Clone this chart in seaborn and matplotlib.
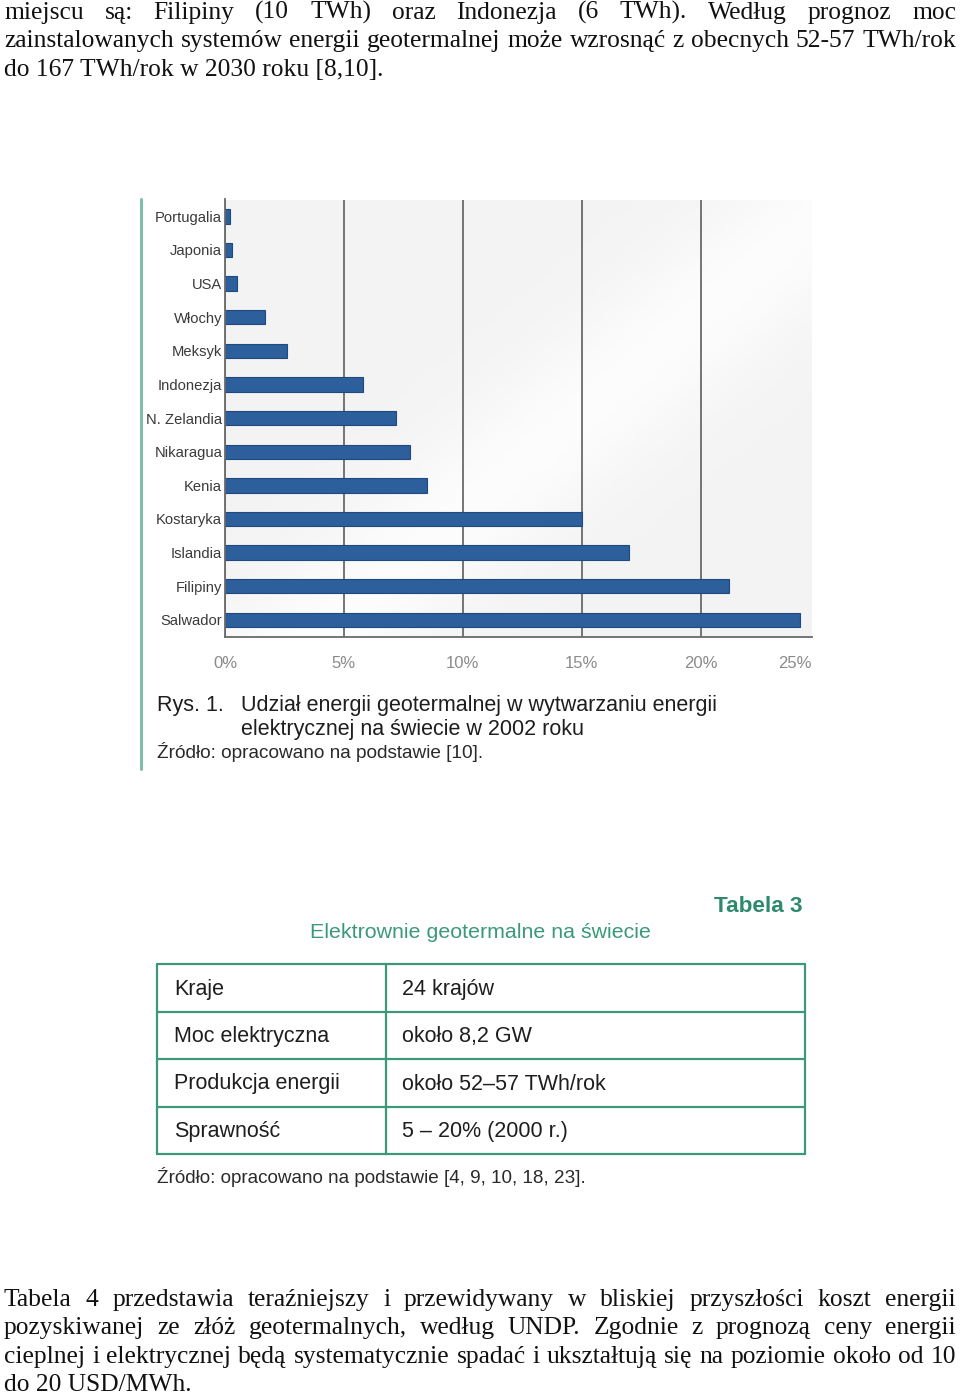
import numpy as np
import pandas as pd
import matplotlib
matplotlib.use("Agg")
import matplotlib.pyplot as plt
import seaborn as sns
from matplotlib import font_manager

# ---------------- data ----------------
countries = ["Portugalia", "Japonia", "USA", "Włochy", "Meksyk", "Indonezja",
             "N. Zelandia", "Nikaragua", "Kenia", "Kostaryka", "Islandia",
             "Filipiny", "Salwador"]
shares = [0.2, 0.3, 0.5, 1.7, 2.6, 5.8, 7.2, 7.8, 8.5, 15.0, 17.0, 21.2, 24.2]
x_ticks = [0, 5, 10, 15, 20]
x_tick_labels = ["0%", "5%", "10%", "15%", "20%"]
edge_tick_label = "25%"

caption_num = "Rys. 1."
caption_lines = ["Udział energii geotermalnej w wytwarzaniu energii",
                 "elektrycznej na świecie w 2002 roku"]
caption_source = "Źródło: opracowano na podstawie [10]."

table_label = "Tabela 3"
table_title = "Elektrownie geotermalne na świecie"
table_keys = ["Kraje", "Moc elektryczna", "Produkcja energii", "Sprawność"]
table_values = ["24 krajów", "około 8,2 GW", "około 52–57 TWh/rok", "5 – 20% (2000 r.)"]
table_source = "Źródło: opracowano na podstawie [4, 9, 10, 18, 23]."

para_top = [
    "miejscu są: Filipiny (10 TWh) oraz Indonezja (6 TWh). Według prognoz moc",
    "zainstalowanych systemów energii geotermalnej może wzrosnąć z obecnych 52-57 TWh/rok",
    "do 167 TWh/rok w 2030 roku [8,10].",
]
para_bottom = [
    "Tabela 4 przedstawia teraźniejszy i przewidywany w bliskiej przyszłości koszt energii",
    "pozyskiwanej ze złóż geotermalnych, według UNDP. Zgodnie z prognozą ceny energii",
    "cieplnej i elektrycznej będą systematycznie spadać i ukształtują się na poziomie około od 10",
    "do 20 USD/MWh.",
]

# ---------------- fonts ----------------
sns.set_style("white")
available = {f.name for f in font_manager.fontManager.ttflist}
SERIF = "Liberation Serif"
SANS = "Liberation Sans"
NARROW = "Liberation Sans Narrow" if "Liberation Sans Narrow" in available else "Liberation Sans"
plt.rcParams["font.family"] = [SANS, "DejaVu Sans"]

W, H = 960, 1396
fig = plt.figure(figsize=(W / 100, H / 100), dpi=100)
fig.patch.set_facecolor("white")

# page overlay axes in pixel coordinates
pg = fig.add_axes([0, 0, 1, 1], zorder=0)
pg.set_xlim(0, W)
pg.set_ylim(H, 0)
pg.axis("off")

renderer = fig.canvas.get_renderer()

def text_width(s, fs, family):
    t = pg.text(0, 0, s, fontsize=fs, family=family)
    w = t.get_window_extent(renderer).width
    t.remove()
    return w

# ---------------- body text ----------------
X0, X1 = 4, 956
ref_w = text_width(para_top[1], 18, SERIF)
body_fs = 18 * (X1 - X0 - 6) / ref_w

def draw_line(s, y, justify):
    words = s.split(" ")
    if not justify or len(words) < 2:
        pg.text(X0, y, s, fontsize=body_fs, family=SERIF, va="baseline", ha="left", color="#111111")
        return
    texts = [pg.text(0, y, w, fontsize=body_fs, family=SERIF, va="baseline", ha="left",
                     color="#111111") for w in words]
    widths = [t.get_window_extent(renderer).width for t in texts]
    gap = (X1 - X0 - sum(widths)) / (len(words) - 1)
    x = X0
    for t, w in zip(texts, widths):
        t.set_x(x)
        x += w + gap

for i, s in enumerate(para_top):
    draw_line(s, 19 + i * 28.3, i < len(para_top) - 1)
for i, s in enumerate(para_bottom):
    draw_line(s, 1306 + i * 28.3, i < len(para_bottom) - 1)

# ---------------- bar chart ----------------
L, R, T, B = 225.0, 811.7, 199.5, 636.7
ax = fig.add_axes([L / W, 1 - B / H, (R - L) / W, (B - T) / H], zorder=2)
df = pd.DataFrame({"kraj": countries, "udzial": shares})
sns.barplot(data=df, x="udzial", y="kraj", orient="h", color="#2c5f9b",
            width=0.43, edgecolor="#1f4a80", linewidth=0.8, saturation=1, ax=ax)
xmax = (R - L) / 23.78
ax.set_xlim(0, xmax)
ax.set_facecolor("#f0f0f0")
# soft diagonal light band in the plot background
gx, gy = np.meshgrid(np.linspace(0, 1, 200), np.linspace(0, 1, 200))
band = np.exp(-((gx - (1 - gy) * 0.9 - 0.15) ** 2) / 0.04)
ax.imshow(band, extent=(0, xmax, 12.5, -0.5), aspect="auto", cmap="Greys_r",
          vmin=-12, vmax=1.3, alpha=1.0, zorder=0, interpolation="bilinear")
ax.set_ylim(12.5, -0.5)
ax.set_xticks(x_ticks)
ax.set_xticklabels(x_tick_labels)
ax.set_xlabel("")
ax.set_ylabel("")
ax.grid(axis="x", color="#6a6a6a", linewidth=1.3, zorder=1)
ax.set_axisbelow(False)
for p in ax.patches:
    p.set_zorder(3)
for side in ["top", "right"]:
    ax.spines[side].set_visible(False)
for side in ["left", "bottom"]:
    ax.spines[side].set_color("#6a6a6a")
    ax.spines[side].set_linewidth(1.3)
    ax.spines[side].set_zorder(4)
ax.tick_params(axis="x", which="major", direction="out", length=6, width=1.2,
               color="#6a6a6a", pad=8, labelsize=12, labelcolor="#8a8a8a")
ax.tick_params(axis="y", which="major", length=0, pad=2, labelsize=10.6, labelcolor="#3a3a3a")
ax.set_yticks(np.arange(-0.5, len(countries)), minor=True)
ax.tick_params(axis="y", which="minor", direction="out", length=4, width=1.2, color="#6a6a6a")
for lab in ax.get_yticklabels():
    lab.set_family(NARROW)
for lab in ax.get_xticklabels():
    lab.set_family(SANS)
ax.text(1.0, -0.0605, edge_tick_label, transform=ax.transAxes, ha="right", va="center",
        fontsize=12, color="#8a8a8a", family=SANS)

# teal side rule
pg.plot([141, 141], [199, 769], color="#7fbfa9", linewidth=2.2)

# caption
pg.text(157, 705, caption_num, fontsize=15.5, family=SANS, va="center", color="#1e1e1e")
for i, s in enumerate(caption_lines):
    pg.text(241, 705 + i * 24, s, fontsize=15.5, family=SANS, va="center", color="#1e1e1e")
pg.text(157, 752, caption_source, fontsize=13.7, family=SANS, va="center", color="#2a2a2a")

# ---------------- table ----------------
teal = "#3d9878"
pg.text(803, 906, table_label, fontsize=16.2, family=SANS, weight="bold", ha="right",
        va="center", color="#2f8a6c")
pg.text(480, 933, table_title, fontsize=15.4, family=SANS, ha="center", va="center",
        color="#3a9a78")
tL, tR, tC = 157, 805, 386
row_y = [964, 1012, 1059, 1107, 1154]
for y in row_y:
    pg.plot([tL, tR], [y, y], color=teal, linewidth=1.6)
for x in [tL, tC, tR]:
    pg.plot([x, x], [row_y[0], row_y[-1]], color=teal, linewidth=1.6)
for i, (k, v) in enumerate(zip(table_keys, table_values)):
    yc = (row_y[i] + row_y[i + 1]) / 2 + 1
    pg.text(174, yc, k, fontsize=15.5, family=SANS, va="center", color="#1e1e1e")
    pg.text(402, yc, v, fontsize=15.5, family=SANS, va="center", color="#1e1e1e")
pg.text(157, 1177, table_source, fontsize=13.6, family=SANS, va="center", color="#2a2a2a")

fig.savefig("out.png", dpi=100, facecolor="white")
